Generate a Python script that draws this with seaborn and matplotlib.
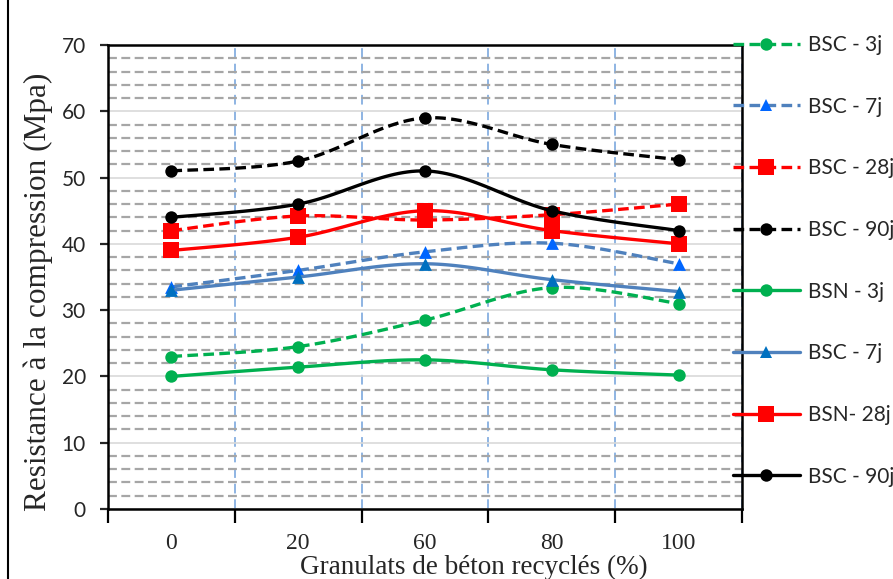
import numpy as np
import pandas as pd
import matplotlib
matplotlib.use("Agg")
import matplotlib.pyplot as plt
import seaborn as sns
from matplotlib.lines import Line2D

# Compressive strength (MPa) per recycled aggregate content
categories = ["0", "20", "60", "80", "100"]
bsc_3j = [23.0, 24.5, 28.5, 33.4, 31.0]
bsc_7j = [33.5, 36.0, 38.8, 40.1, 37.0]
bsc_28j = [42.0, 44.2, 43.6, 44.4, 46.0]
bsc_90j = [51.0, 52.5, 59.0, 55.0, 52.7]
bsn_3j = [20.0, 21.4, 22.5, 21.0, 20.2]
bsn_7j = [33.0, 35.0, 37.0, 34.6, 32.8]
bsn_28j = [39.0, 41.0, 45.0, 42.0, 40.0]
bsn_90j = [44.0, 46.0, 51.0, 45.0, 42.0]
legend_labels = ["BSC - 3j", "BSC - 7j", "BSC - 28j", "BSC - 90j",
                 "BSN - 3j", "BSC - 7j", "BSN- 28j", "BSC - 90j"]

sns.set_style("white")
plt.rcParams["font.family"] = ["Lato", "DejaVu Sans"]

GREEN, RED, BLACK = "#00B050", "#FF0000", "#000000"
BLUE_LINE, BLUE_DASH_MK, BLUE_MK = "#4F81BD", "#0066FF", "#0070C0"
DASH = (0, (3.2, 1.6))
LW = 2.4

styles = [
    dict(values=bsc_3j, color=GREEN, mcolor=GREEN, marker="o", s=80, ls=DASH),
    dict(values=bsc_7j, color=BLUE_LINE, mcolor=BLUE_DASH_MK, marker="^", s=85, ls=DASH),
    dict(values=bsc_28j, color=RED, mcolor=RED, marker="s", s=120, ls=DASH),
    dict(values=bsc_90j, color=BLACK, mcolor=BLACK, marker="o", s=80, ls=DASH),
    dict(values=bsn_3j, color=GREEN, mcolor=GREEN, marker="o", s=80, ls="-"),
    dict(values=bsn_7j, color=BLUE_LINE, mcolor=BLUE_MK, marker="^", s=85, ls="-"),
    dict(values=bsn_28j, color=RED, mcolor=RED, marker="s", s=120, ls="-"),
    dict(values=bsn_90j, color=BLACK, mcolor=BLACK, marker="o", s=80, ls="-"),
]


def smooth_curve(xs, ys, n=30):
    """Cubic Bezier spline through the points (spreadsheet-style smoothed line)."""
    P = np.column_stack([xs, ys]).astype(float)
    P_ext = np.vstack([P[0], P, P[-1]])
    out = []
    t = np.linspace(0, 1, n)[:, None]
    for i in range(len(P) - 1):
        p0, p1, p2, p3 = P_ext[i], P_ext[i + 1], P_ext[i + 2], P_ext[i + 3]
        c1 = p1 + (p2 - p0) / 6.0
        c2 = p2 - (p3 - p1) / 6.0
        seg = ((1 - t) ** 3) * p1 + 3 * ((1 - t) ** 2) * t * c1 + 3 * (1 - t) * t ** 2 * c2 + t ** 3 * p2
        out.append(seg if i == 0 else seg[1:])
    pts = np.vstack(out)
    return pd.DataFrame({"x": pts[:, 0], "y": pts[:, 1]})


fig = plt.figure(figsize=(8.93, 5.79), dpi=100)
ax = fig.add_axes([108 / 893, 1 - 509 / 579, (742 - 108) / 893, (509 - 45) / 579])

xpos = np.arange(len(categories))
for k, st in enumerate(styles):
    curve = smooth_curve(xpos, st["values"])
    sns.lineplot(data=curve, x="x", y="y", sort=False, estimator=None, ax=ax,
                 color=st["color"], linewidth=LW, linestyle=st["ls"], zorder=3 + k)
    sns.scatterplot(x=xpos, y=st["values"], ax=ax, marker=st["marker"], s=st["s"],
                    color=st["mcolor"], edgecolor=st["mcolor"], linewidth=0, zorder=3.5 + k)

ax.set_xlim(-0.5, 4.5)
ax.set_ylim(0, 70)

# y grid: solid majors every 10, dashed minors every 2
ax.set_yticks(np.arange(0, 71, 10))
ax.set_yticks([v for v in range(2, 70, 2) if v % 10], minor=True)
ax.yaxis.grid(True, which="major", color="#D9D9D9", linewidth=1.2, linestyle="-")
ax.yaxis.grid(True, which="minor", color="#A6A6A6", linewidth=1.6, linestyle=(0, (4, 2)))

# x: labels at category centres, ticks and dashed separators between them
ax.set_xticks(xpos)
ax.set_xticklabels(categories, fontsize=17, family=["Liberation Serif"])
ax.set_xticks(np.arange(-0.5, 4.6, 1.0), minor=True)
ax.xaxis.grid(True, which="minor", color="#8EB4E3", linewidth=1.4, linestyle=(0, (5, 3)))
ax.xaxis.grid(False, which="major")
ax.set_axisbelow(True)

ax.tick_params(axis="x", which="major", length=0, pad=17)
ax.tick_params(axis="x", which="minor", length=10, width=1.6, direction="out", color="black", bottom=True)
ax.tick_params(axis="y", which="major", length=6, width=1.6, direction="out", pad=10, labelsize=15,
               left=True, labelcolor="#262626")
ax.tick_params(axis="y", which="minor", length=0)
for sp in ax.spines.values():
    sp.set_color("black")
    sp.set_linewidth(1.8)

ax.set_xlabel("Granulats de béton recyclés (%)", family=["Liberation Serif"], fontsize=19.5)
ax.xaxis.set_label_coords(0.577, -0.099)
ax.set_ylabel("Resistance à la compression (Mpa)", family=["Liberation Serif"], fontsize=22.5)
ax.yaxis.set_label_coords(-0.087, 0.468)

handles = []
for st in styles:
    handles.append(Line2D([0], [0], color=st["color"], linewidth=LW, linestyle=st["ls"],
                          marker=st["marker"], markersize=np.sqrt(st["s"]),
                          markerfacecolor=st["mcolor"], markeredgecolor=st["mcolor"],
                          markeredgewidth=0))
fig.legend(handles, legend_labels, loc="upper left", bbox_to_anchor=(733 / 893, 1 - 35 / 579),
           frameon=False, borderpad=0, borderaxespad=0, handlelength=3.2, handletextpad=0.4,
           labelspacing=2.0, fontsize=15, numpoints=1)

# outer frame edge on the left
fig.add_artist(Line2D([8 / 893, 8 / 893], [0, 1], transform=fig.transFigure, color="black", linewidth=1.5))

fig.savefig("out.png", dpi=100)
